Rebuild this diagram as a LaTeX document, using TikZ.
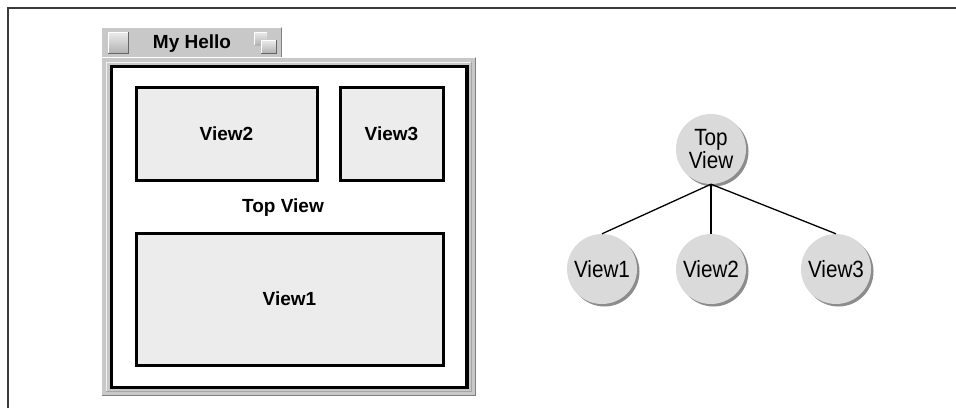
\documentclass[tikz,border=0pt]{standalone}
\usepackage{fontspec}
\setmainfont{Liberation Sans}
\newfontfamily\narrowfont[FakeStretch=0.88]{Liberation Sans}
\usetikzlibrary{shadows}
\definecolor{framegray}{HTML}{C8C8C8}
\definecolor{boxfill}{HTML}{ECECEC}
\definecolor{circfill}{HTML}{DADADA}
\definecolor{shadowgray}{HTML}{8C8C8C}
\definecolor{borderdark}{HTML}{3A3A3A}
\tikzset{
  viewbox/.style={draw=black, line width=3pt, fill=boxfill, font=\bfseries\fontsize{19}{21}\selectfont},
  treenode/.style={circle, fill=circfill, minimum size=70pt, inner sep=0pt, align=center,
    font=\narrowfont\fontsize{23.5}{26}\selectfont,
    drop shadow={shadow xshift=2.5pt, shadow yshift=-2.5pt, fill=shadowgray, opacity=1}},
  link/.style={draw=black, line width=1.3pt},
  lbl/.style={font=\bfseries\fontsize{19}{21}\selectfont, inner sep=0pt}
}
\begin{document}
\begin{tikzpicture}[x=1pt, y=-1pt]
\useasboundingbox (0,0) rectangle (956,408);
% outer frame lines
\draw[borderdark, line width=2pt] (8,408) -- (8,7.5) -- (956,7.5);
% title tab
\fill[framegray] (101,27) rectangle (282,58);
\draw[white, line width=1.2pt] (101.6,58) -- (101.6,27.6) -- (281.4,27.6);
\draw[gray, line width=1.2pt] (281.4,27.6) -- (281.4,58);
% left button
\shade[top color=white!85!gray, bottom color=gray!60] (108,32) rectangle (128,53);
\draw[white, line width=0.8pt] (108,53) -- (108,32) -- (128,32);
\draw[gray!80!black, line width=0.8pt] (128,32) -- (128,53) -- (108,53);
% right icon
\shade[top color=white!85!gray, bottom color=gray!60] (254,32) rectangle (267,45);
\draw[white, line width=0.8pt] (254,45) -- (254,32) -- (267,32);
\shade[top color=white!85!gray, bottom color=gray!60] (261,40) rectangle (276,53);
\draw[white, line width=0.8pt] (261,53) -- (261,40) -- (276,40);
\draw[gray!80!black, line width=0.8pt] (276,40) -- (276,53) -- (261,53);
\node[lbl] (title) at (192,44) {My Hello};
% window body frame
\fill[framegray] (101,57) rectangle (476,396);
\draw[white, line width=1.2pt] (101.6,396) -- (101.6,57.6) -- (475.4,57.6);
\draw[gray, line width=1.5pt] (475.3,57.6) -- (475.3,395.3) -- (101.6,395.3);
\draw[white!90!gray, line width=1pt] (106,391) -- (106,62) -- (471,62);
\draw[gray!70, line width=1pt] (471,62) -- (471,391) -- (106,391);
% inner black frame
\draw[black, line width=3.6pt, fill=white] (111.5,66.5) rectangle (467,387.5);
% boxes
\node[viewbox, minimum width=181pt, minimum height=93pt] (w2) at (226.5,133.5) {View2};
\node[viewbox, minimum width=103pt, minimum height=93pt] (w3) at (391.5,133.5) {View3};
\node[viewbox, minimum width=307pt, minimum height=132pt] (w1) at (289.5,299) {View1};
\node[lbl] (toplbl) at (283,208) {Top View};
% tree
\node[treenode] (top) at (711,149) {Top\\[-3pt]View};
\node[treenode] (t1) at (602,269) {View1};
\node[treenode] (t2) at (711,269) {View2};
\node[treenode] (t3) at (836,269) {View3};
\draw[link] (top.south) -- (t1.north);
\draw[link] (top.south) -- (t2.north);
\draw[link] (top.south) -- (t3.north);
\end{tikzpicture}
\end{document}
